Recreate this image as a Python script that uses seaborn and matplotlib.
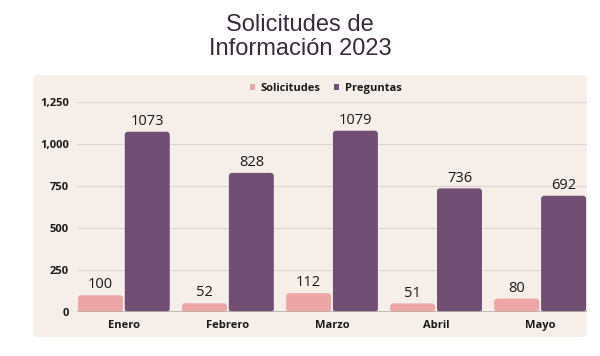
import pandas as pd
import matplotlib.pyplot as plt
import seaborn as sns
from matplotlib.patches import FancyBboxPatch, Patch
from matplotlib.ticker import FuncFormatter

meses = ['Enero', 'Febrero', 'Marzo', 'Abril', 'Mayo']
solicitudes = [100, 52, 112, 51, 80]
preguntas = [1073, 828, 1079, 736, 692]
series = ['Solicitudes', 'Preguntas']
colores = ['#eca6a6', '#714e73']

df = pd.DataFrame({
    'Mes': meses * 2,
    'Serie': ['Solicitudes'] * len(meses) + ['Preguntas'] * len(meses),
    'Valor': solicitudes + preguntas,
})

sns.set_theme(style='white')
plt.rcParams['font.family'] = ['Open Sans', 'DejaVu Sans']

fig = plt.figure(figsize=(6, 3.56), dpi=100)
fig.patch.set_facecolor('white')

# panel de fondo
panel = FancyBboxPatch((33 / 600, 1 - 337 / 356), 554 / 600, 262 / 356,
                       boxstyle='round,pad=0,rounding_size=0.01',
                       transform=fig.transFigure, facecolor='#f5eee9',
                       edgecolor='none', zorder=-5)
fig.add_artist(panel)

ax = fig.add_axes([77 / 600, 44 / 356, 510 / 600, 210 / 356])
ax.set_facecolor('none')
ax.set_zorder(1)

sns.barplot(data=df, x='Mes', y='Valor', hue='Serie', hue_order=series,
            palette=colores, saturation=1, width=0.9, gap=0.04,
            linewidth=0, ax=ax, zorder=3, legend=False)

ax.set_xlim(-0.45, 4.45)
ax.set_ylim(0, 1250)

for cont in ax.containers:
    ax.bar_label(cont, padding=2, fontsize=10.5, color='#1a1a1a')

# esquinas redondeadas en las barras
aspect = (1250 / 210) / (4.9 / 510)
for bar in list(ax.patches):
    x, y = bar.get_x(), bar.get_y()
    w, h = bar.get_width(), bar.get_height()
    rb = FancyBboxPatch((x, y), w, h,
                        boxstyle='round,pad=0,rounding_size=0.03',
                        mutation_aspect=aspect,
                        facecolor=bar.get_facecolor(), edgecolor='none',
                        zorder=3)
    bar.set_visible(False)
    ax.add_patch(rb)

ax.set_yticks([0, 250, 500, 750, 1000, 1250])
ax.yaxis.set_major_formatter(FuncFormatter(lambda v, p: f'{int(v):,}'))
ax.grid(axis='y', color='#dcd5d1', linewidth=0.8, zorder=0)
ax.axhline(0, color='#b5b0ad', linewidth=1.2, zorder=4)
for s in ax.spines.values():
    s.set_visible(False)
ax.set_xlabel('')
ax.set_ylabel('')
ax.tick_params(axis='both', length=0, labelsize=8, colors='#1a1a1a')
ax.tick_params(axis='y', pad=6)
ax.tick_params(axis='x', pad=6)
for t in ax.get_xticklabels() + ax.get_yticklabels():
    t.set_fontweight('bold')

handles = [Patch(facecolor=c, edgecolor='none') for c in colores]
leg = ax.legend(handles, series, loc='center', bbox_to_anchor=(0.488, 1.066),
                ncol=2, frameon=False, handlelength=0.45, handleheight=0.45,
                handletextpad=0.5, columnspacing=1.2,
                prop={'weight': 'bold', 'size': 8})
for t in leg.get_texts():
    t.set_color('#1a1a1a')

fig.text(0.5, 1 - 37 / 356, 'Solicitudes de\nInformación 2023', ha='center',
         va='center', fontsize=17, color='#3b2a3c', linespacing=1.15,
         family=['Liberation Sans', 'DejaVu Sans'])

fig.savefig('out.png', dpi=100)
